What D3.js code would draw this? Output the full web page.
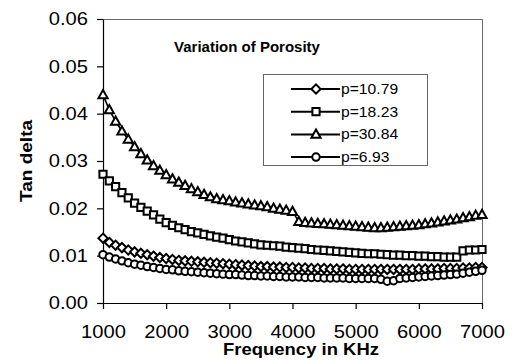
<!DOCTYPE html>
<html>
<head>
<meta charset="utf-8">
<script src="https://cdn.jsdelivr.net/npm/d3@7/dist/d3.min.js"></script>
<style>
  body { margin: 0; background: #fff; }
  text { font-family: "Liberation Sans", Arial, sans-serif; fill: #000; }
</style>
</head>
<body>
<div id="container"></div>
<script>
// frequency (KHz)
let freq = [1000, 1100, 1200, 1300, 1400, 1500, 1600, 1700, 1800, 1900,
  2000, 2100, 2200, 2300, 2400, 2500, 2600, 2700, 2800, 2900,
  3000, 3100, 3200, 3300, 3400, 3500, 3600, 3700, 3800, 3900,
  4000, 4100, 4200, 4300, 4400, 4500, 4600, 4700, 4800, 4900,
  5000, 5100, 5200, 5300, 5400, 5500, 5600, 5700, 5800, 5900,
  6000, 6100, 6200, 6300, 6400, 6500, 6600, 6700, 6800, 6900, 7000]

let p1079 = [0.0137, 0.0128, 0.0122, 0.0117, 0.0112, 0.0108, 0.0105, 0.0102, 0.0099, 0.0096,
  0.0094, 0.0092, 0.0090, 0.0089, 0.0088, 0.0087, 0.0086, 0.0085, 0.0084, 0.0083,
  0.0082, 0.0081, 0.0080, 0.0079, 0.0078, 0.0077, 0.0077, 0.0076, 0.0076, 0.0075,
  0.0075, 0.0074, 0.0074, 0.0073, 0.0073, 0.0073, 0.0072, 0.0072, 0.0072, 0.0071,
  0.0071, 0.0071, 0.0071, 0.0071, 0.0071, 0.0071, 0.0071, 0.0071, 0.0071, 0.0071,
  0.0072, 0.0072, 0.0072, 0.0072, 0.0073, 0.0073, 0.0073, 0.0074, 0.0074, 0.0075, 0.0075]

let p1823 = [0.0272, 0.0258, 0.0246, 0.0233, 0.0222, 0.0211, 0.0202, 0.0194, 0.0186, 0.0177,
  0.0170, 0.0164, 0.0159, 0.0155, 0.0151, 0.0148, 0.0145, 0.0142, 0.0139, 0.0137,
  0.0134, 0.0131, 0.0129, 0.0127, 0.0125, 0.0123, 0.0122, 0.0121, 0.0120, 0.0118,
  0.0117, 0.0116, 0.0115, 0.0113, 0.0112, 0.0111, 0.0110, 0.0109, 0.0108, 0.0107,
  0.0106, 0.0105, 0.0104, 0.0104, 0.0103, 0.0102, 0.0101, 0.0101, 0.0100, 0.0100,
  0.0099, 0.0099, 0.0098, 0.0098, 0.0097, 0.0097, 0.0097, 0.0110, 0.0112, 0.0112, 0.0113]

let p3084 = [0.0440, 0.0408, 0.0384, 0.0363, 0.0346, 0.0330, 0.0315, 0.0302, 0.0290, 0.0280,
  0.0271, 0.0262, 0.0255, 0.0248, 0.0241, 0.0235, 0.0229, 0.0224, 0.0220, 0.0218,
  0.0216, 0.0213, 0.0211, 0.0209, 0.0207, 0.0205, 0.0203, 0.0200, 0.0198, 0.0196,
  0.0193, 0.0172, 0.0170, 0.0169, 0.0168, 0.0167, 0.0166, 0.0165, 0.0164, 0.0163,
  0.0162, 0.0161, 0.0160, 0.0159, 0.0159, 0.0160, 0.0161, 0.0162, 0.0163, 0.0164,
  0.0165, 0.0167, 0.0169, 0.0171, 0.0173, 0.0175, 0.0177, 0.0180, 0.0182, 0.0185, 0.0187]

let p693 = [0.0102, 0.0097, 0.0093, 0.0089, 0.0085, 0.0082, 0.0080, 0.0077, 0.0075, 0.0073,
  0.0071, 0.0070, 0.0068, 0.0067, 0.0066, 0.0065, 0.0064, 0.0063, 0.0062, 0.0061,
  0.0060, 0.0060, 0.0059, 0.0058, 0.0058, 0.0057, 0.0057, 0.0056, 0.0056, 0.0055,
  0.0055, 0.0055, 0.0054, 0.0054, 0.0054, 0.0053, 0.0053, 0.0053, 0.0053, 0.0052,
  0.0052, 0.0052, 0.0052, 0.0052, 0.0050, 0.0046, 0.0047, 0.0052, 0.0053, 0.0054,
  0.0055, 0.0056, 0.0057, 0.0058, 0.0059, 0.0060, 0.0061, 0.0063, 0.0065, 0.0067, 0.0069]

let seriesNames = ['p=10.79', 'p=18.23', 'p=30.84', 'p=6.93']
let seriesValues = [p1079, p1823, p3084, p693]
let seriesMarkers = ['diamond', 'square', 'triangle', 'circle']

let yTicks = [0, 0.01, 0.02, 0.03, 0.04, 0.05, 0.06]
let xTicks = [1000, 2000, 3000, 4000, 5000, 6000, 7000]

let width = 512, height = 360
let plot = { left: 103, right: 482, top: 19, bottom: 303 }
let stretch = 1.12 // the labels in the picture are a bit wider than normal Arial

let svg = d3.select('#container')
  .append('svg')
  .attr('width', width)
  .attr('height', height)

let x = d3.scaleLinear().domain([1000, 7000]).range([plot.left, plot.right])
let y = d3.scaleLinear().domain([0, 0.06]).range([plot.bottom, plot.top])

// plot border (top + right)
svg.append('path')
  .attr('d', 'M' + plot.left + ',' + (plot.top + 0.5) + 'H' + (plot.right + 0.5) + 'V' + plot.bottom)
  .attr('fill', 'none')
  .attr('stroke', '#666')
  .attr('stroke-width', 1)

// axes
let yAxis = svg.append('g')
  .attr('transform', 'translate(' + plot.left + ',0)')
  .call(d3.axisLeft(y).tickValues(yTicks).tickFormat(d3.format('.2f')).tickSize(6).tickSizeOuter(0))
yAxis.selectAll('text')
  .attr('x', -15 / stretch)
  .attr('transform', 'scale(' + stretch + ',1)')
  .style('font-size', '18px')

let xAxis = svg.append('g')
  .attr('transform', 'translate(0,' + plot.bottom + ')')
  .call(d3.axisBottom(x).tickValues(xTicks).tickFormat(d3.format('d')).tickSize(6).tickSizeOuter(0))
xAxis.selectAll('text')
  .attr('y', 22)
  .attr('transform', 'scale(' + stretch + ',1)')
  .style('font-size', '18px')

svg.selectAll('.domain, .tick line').attr('stroke', '#000').attr('stroke-width', 1.2)

// markers
function markerPath(type) {
  if (type === 'diamond') return 'M0,-4.6L4.6,0L0,4.6L-4.6,0Z'
  if (type === 'square') return 'M-3.6,-3.6H3.6V3.6H-3.6Z'
  if (type === 'triangle') return 'M0,-4.8L4.6,3.4H-4.6Z'
  return d3.symbol().type(d3.symbolCircle).size(44)()
}

let line = d3.line()
  .x(function (d, i) { return x(freq[i]) })
  .y(function (d) { return y(d) })

seriesValues.forEach(function (vals, k) {
  svg.append('path')
    .datum(vals)
    .attr('d', line)
    .attr('fill', 'none')
    .attr('stroke', '#000')
    .attr('stroke-width', 1.6)

  svg.append('g').selectAll('path')
    .data(vals).enter().append('path')
    .attr('transform', function (d, i) { return 'translate(' + x(freq[i]) + ',' + y(d) + ')' })
    .attr('d', markerPath(seriesMarkers[k]))
    .attr('fill', '#fff')
    .attr('stroke', '#000')
    .attr('stroke-width', 2)
})

// title
svg.append('text')
  .attr('x', 247)
  .attr('y', 52)
  .attr('text-anchor', 'middle')
  .style('font-size', '15px')
  .style('font-weight', 'bold')
  .text('Variation of Porosity')

// axis titles
svg.append('text')
  .attr('transform', 'translate(301,355) scale(' + stretch + ',1)')
  .attr('text-anchor', 'middle')
  .style('font-size', '16.5px')
  .style('font-weight', 'bold')
  .text('Frequency in KHz')

svg.append('text')
  .attr('transform', 'translate(32,161) rotate(-90) scale(' + stretch + ',1)')
  .attr('text-anchor', 'middle')
  .style('font-size', '17px')
  .style('font-weight', 'bold')
  .text('Tan delta')

// legend
let legend = svg.append('g')
legend.append('rect')
  .attr('x', 263.5)
  .attr('y', 74.5)
  .attr('width', 164)
  .attr('height', 91)
  .attr('fill', '#fff')
  .attr('stroke', '#666')

let item = legend.selectAll('g.item')
  .data(seriesNames).enter().append('g')
  .attr('class', 'item')
  .attr('transform', function (d, i) { return 'translate(0,' + (89 + i * 22.7) + ')' })

item.append('line')
  .attr('x1', 291).attr('x2', 340)
  .attr('stroke', '#000')
  .attr('stroke-width', 2)

item.append('path')
  .attr('transform', 'translate(316,0)')
  .attr('d', function (d, i) { return markerPath(seriesMarkers[i]) })
  .attr('fill', '#fff')
  .attr('stroke', '#000')
  .attr('stroke-width', 2)

item.append('text')
  .attr('transform', 'translate(341,5) scale(' + stretch + ',1)')
  .style('font-size', '14px')
  .text(function (d) { return d })
</script>
</body>
</html>
